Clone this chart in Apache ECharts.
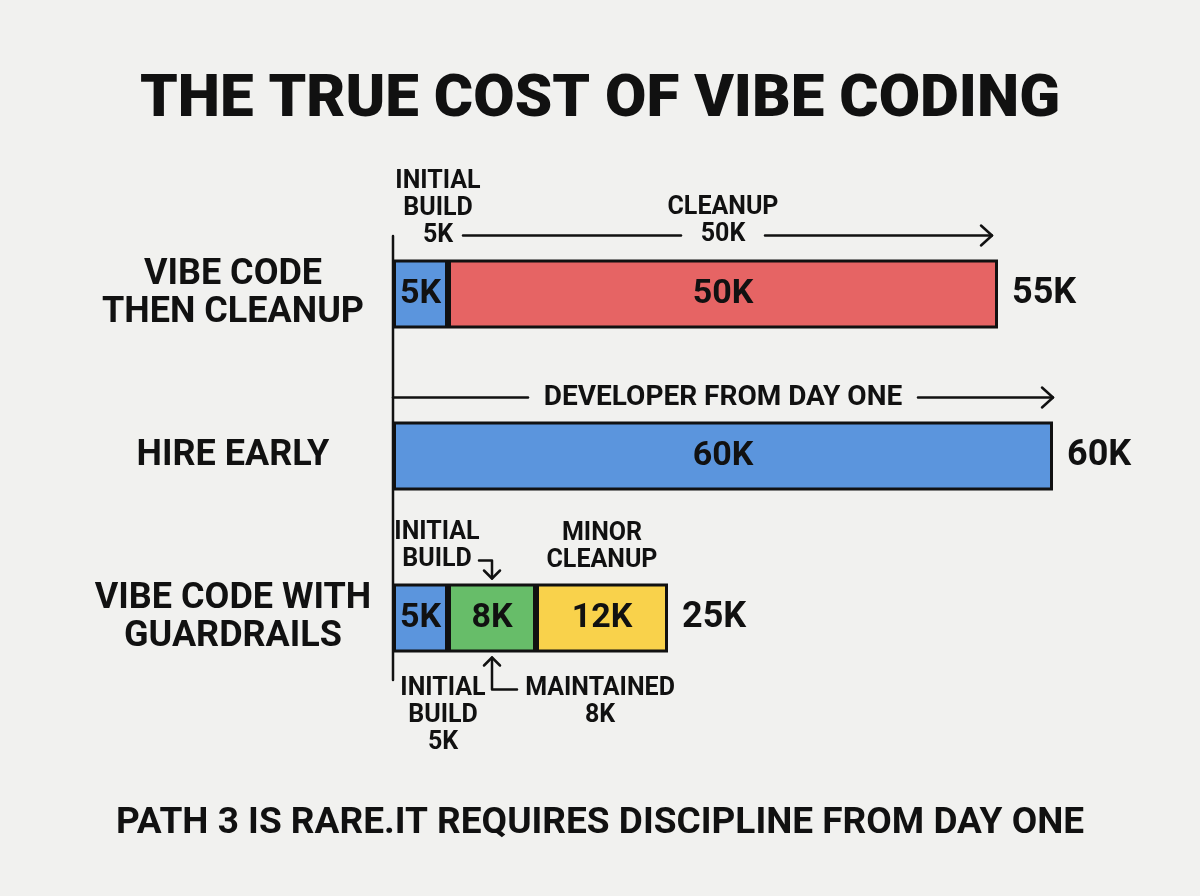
<!DOCTYPE html>
<html>
<head>
<meta charset="utf-8">
<script src="https://cdn.jsdelivr.net/npm/echarts@6/dist/echarts.min.js"></script>
<style>
  html, body { margin: 0; background: #f1f1ef; }
  #chart { width: 1200px; height: 896px; }
</style>
</head>
<body>
<div id="chart"></div>
<script>
// data (thousands)
var paths = ['VIBE CODE\nTHEN CLEANUP', 'HIRE EARLY', 'VIBE CODE WITH\nGUARDRAILS'];
var initialBuild = [5, '-', 5];
var developer = ['-', 60, '-'];
var maintained = ['-', '-', 8];
var cleanup = [50, '-', '-'];
var minorCleanup = ['-', '-', 12];
var totals = [55, 60, 25];

var FONT = 'Roboto, "DejaVu Sans", sans-serif';
var INK = '#111';

var chart = echarts.init(document.getElementById('chart'));

function seg(name, data, color) {
  return {
    name: name,
    type: 'bar',
    stack: 'cost',
    barWidth: 69,
    data: data,
    z: 3,
    itemStyle: { color: color, borderColor: INK, borderWidth: 3 },
    label: {
      show: true,
      position: 'inside',
      formatter: function (p) { return p.value + 'K'; },
      color: INK,
      fontFamily: FONT,
      fontWeight: 'bold',
      fontSize: 34
    }
  };
}

var option = {
  backgroundColor: '#f1f1ef',
  animation: false,
  title: [{
    text: 'THE TRUE COST OF VIBE CODING',
    left: 'center',
    top: 66,
    textStyle: { fontFamily: FONT, fontWeight: 900, fontSize: 60, color: INK }
  }, {
    text: 'PATH 3 IS RARE.IT REQUIRES DISCIPLINE FROM DAY ONE',
    left: 'center',
    top: 800,
    textStyle: { fontFamily: FONT, fontWeight: 'bold', fontSize: 37, color: INK }
  }],
  grid: { left: 393, width: 770, top: 213, height: 486 },
  xAxis: {
    type: 'value',
    min: 0,
    max: 70,
    show: false
  },
  yAxis: {
    type: 'category',
    data: paths,
    inverse: true,
    axisLine: { show: false },
    axisTick: { show: false },
    axisLabel: {
      margin: 160,
      align: 'center',
      color: INK,
      fontFamily: FONT,
      fontWeight: 'bold',
      fontSize: 36,
      lineHeight: 38
    }
  },
  series: [
    {
      name: 'Total',
      type: 'bar',
      barWidth: 69,
      barGap: '-100%',
      data: totals,
      silent: true,
      z: 1,
      itemStyle: { color: 'rgba(0,0,0,0)' },
      label: {
        show: true,
        position: 'right',
        distance: 14,
        formatter: '{c}K',
        color: INK,
        fontFamily: FONT,
        fontWeight: 'bold',
        fontSize: 36
      }
    },
    seg('Initial build', initialBuild, '#5b95dd'),
    seg('Developer', developer, '#5b95dd'),
    seg('Maintained', maintained, '#67bd69'),
    seg('Cleanup', cleanup, '#e66464'),
    seg('Minor cleanup', minorCleanup, '#f9d24b')
  ]
};
chart.setOption(option);

// annotations placed through the axis scales
function px(v, row) { return chart.convertToPixel({ gridIndex: 0 }, [v, row]); }
var half = 34.5;
var ax = px(0, 0)[0];
var g = [];

function txt(s, x, y, size) {
  g.push({
    type: 'text',
    z: 10,
    style: {
      text: s, x: x, y: y, fill: INK,
      font: 'bold ' + (size || 25) + 'px ' + FONT,
      align: 'center', textAlign: 'center',
      verticalAlign: 'middle', textVerticalAlign: 'middle',
      lineHeight: 27
    }
  });
}
function line(pts) {
  g.push({
    type: 'polyline', z: 10,
    shape: { points: pts },
    style: { stroke: INK, lineWidth: 2.5, fill: null, lineCap: 'round', lineJoin: 'round' }
  });
}
function arrowRight(x1, x2, y, gapC, gapH) {
  if (gapC != null) {
    line([[x1, y], [gapC - gapH, y]]);
    line([[gapC + gapH, y], [x2, y]]);
  } else {
    line([[x1, y], [x2, y]]);
  }
  line([[x2 - 11, y - 10], [x2, y], [x2 - 11, y + 10]]);
}

// axis line
var r0 = px(0, 0)[1], r1 = px(0, 1)[1], r2 = px(0, 2)[1];
line([[ax, r0 - 58], [ax, r2 + 62]]);

// row 1
var top0 = r0 - half;
txt('INITIAL\nBUILD\n5K', ax + 45, top0 - 51);
var c0 = px(30, 0)[0];
txt('CLEANUP\n50K', c0, top0 - 38);
arrowRight(Math.max(px(5, 0)[0], ax + 70), px(55, 0)[0] - 6, top0 - 24, c0, 42);

// row 2
var top1 = r1 - half;
var c1 = px(30, 1)[0];
txt('DEVELOPER FROM DAY ONE', c1, top1 - 24, 28);
arrowRight(ax, px(60, 1)[0], top1 - 24, c1, 195);

// row 3
var top2 = r2 - half, bot2 = r2 + half;
txt('INITIAL\nBUILD', ax + 44, top2 - 37);
var hx = px(9, 2)[0];
line([[hx - 13, top2 - 23], [hx, top2 - 23], [hx, top2 - 5]]);
line([[hx - 8, top2 - 13], [hx, top2 - 5], [hx + 8, top2 - 13]]);
txt('MINOR\nCLEANUP', px(19, 2)[0], top2 - 36);

txt('INITIAL\nBUILD\n5K', ax + 50, bot2 + 63);
line([[hx + 25, bot2 + 37], [hx, bot2 + 37], [hx, bot2 + 5]]);
line([[hx - 8, bot2 + 13], [hx, bot2 + 5], [hx + 8, bot2 + 13]]);
txt('MAINTAINED\n8K', hx + 108, bot2 + 50);

chart.setOption({ graphic: g });
</script>
</body>
</html>
